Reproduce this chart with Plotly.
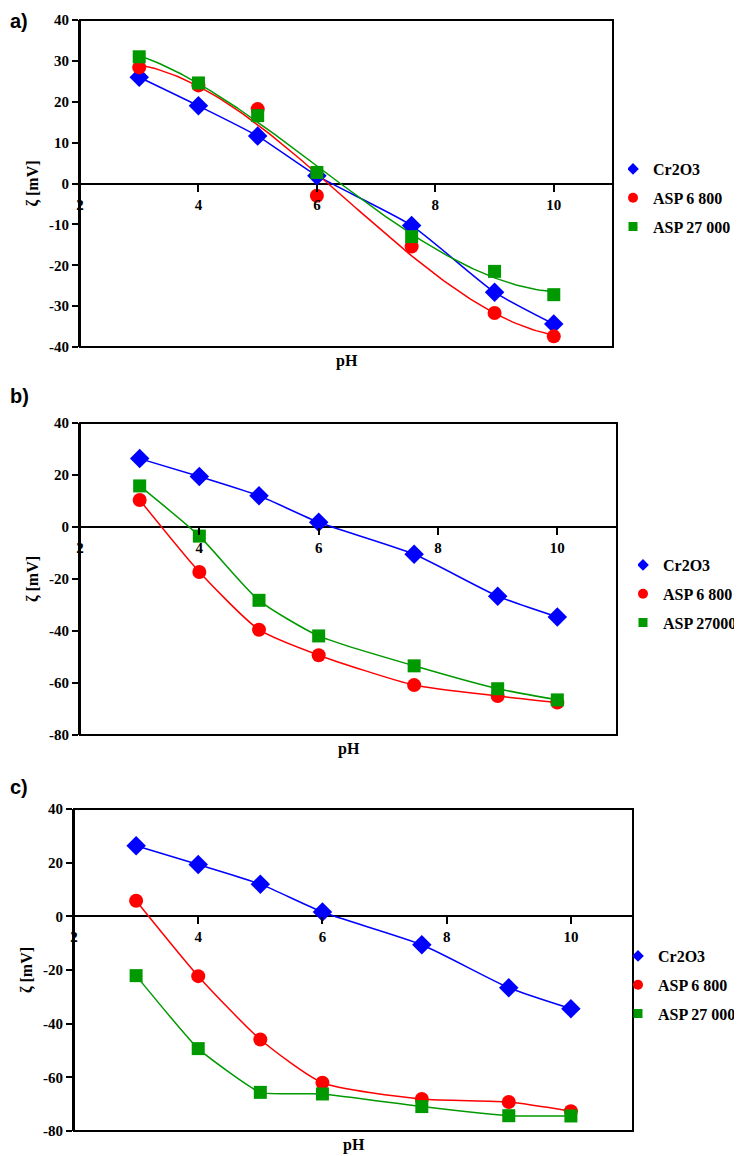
import numpy as np
import plotly.graph_objects as go

# page body has an 8px default margin; the figure is sized to fill the rest of the window
OFF = 8
W, H = 742 - OFF, 1156 - OFF

ph = [3, 4, 5, 6, 7.6, 9, 10]

# Panel a
a_cr2o3 = [26, 19, 11.6, 1.9, -10.3, -26.6, -34.4]
a_asp6800 = [28.4, 24, 18.2, -3.0, -15.4, -31.7, -37.4]
a_asp27000 = [31, 24.6, 16.6, 2.7, -13.0, -21.5, -27.2]

# Panel b
b_cr2o3 = [26.3, 19.4, 12.0, 1.8, -10.5, -26.6, -34.6]
b_asp6800 = [10.4, -17.3, -39.5, -49.3, -60.8, -65.0, -67.5]
b_asp27000 = [15.8, -3.5, -28.2, -41.9, -53.4, -62.2, -66.5]

# Panel c
c_cr2o3 = [26.3, 19.3, 12.0, 1.6, -10.6, -26.6, -34.4]
c_asp6800 = [5.8, -22.3, -45.9, -62.0, -68.1, -69.2, -72.6]
c_asp27000 = [-22.1, -49.3, -65.6, -66.2, -70.9, -74.3, -74.4]

legend_names = [
    ["Cr2O3", "ASP 6 800", "ASP 27 000"],
    ["Cr2O3", "ASP 6 800", "ASP 27000"],
    ["Cr2O3", "ASP 6 800", "ASP 27 000"],
]
panel_labels = ["a)", "b)", "c)"]
y_ranges = [[-40, 40], [-80, 40], [-80, 40]]
y_dticks = [10, 20, 20]
x_range = [2, 11]
x_ticks = [2, 4, 6, 8, 10]

# line type per series: "spline" through points, or polynomial trendline degree
line_kind = [
    ["spline", 3, 3],
    ["spline", "spline", "spline"],
    ["spline", "spline", "spline"],
]
smooth = [
    [0.6, 0, 0],
    [0.6, 0.6, 0.6],
    [0.6, 0.6, 0.4],
]

# screen-pixel boxes (left, right, top, bottom)
boxes = [(80, 613, 20, 347), (80, 617, 423, 735), (74, 633, 809, 1131)]
# legend text start x, first row centre y (screen px)
legend_pos = [(655, 168), (665, 564), (660, 955)]
label_pos = [(OFF, OFF), (OFF, 383), (OFF, 774)]

colors = ["#0000FF", "#FF0000", "#009900"]
symbols = ["diamond", "circle", "square"]
msizes = [15, 14, 13]
lsizes = [9, 10, 9]

series = [
    [a_cr2o3, a_asp6800, a_asp27000],
    [b_cr2o3, b_asp6800, b_asp27000],
    [c_cr2o3, c_asp6800, c_asp27000],
]

SERIF = "Liberation Serif"
SANS = "Liberation Sans"


def px(x):
    return (x - OFF) / W


def py(y):
    return 1 - (y - OFF) / H


fig = go.Figure()
layout = dict(
    width=W, height=H, margin=dict(l=0, r=0, t=0, b=0, autoexpand=False),
    paper_bgcolor="white", plot_bgcolor="white",
    font=dict(family=SERIF, size=14, color="black"),
    shapes=[], annotations=[],
)

for p in range(3):
    L, R, T, B = boxes[p]
    xd = [px(L), px(R)]
    yd = [py(B), py(T)]
    xs = "" if p == 0 else str(p + 1)
    xa, ya = "x" + xs, "y" + xs
    leg = "legend" if p == 0 else "legend" + str(p + 1)
    y0, y1 = y_ranges[p]
    zero_pos = yd[0] + (0 - y0) / (y1 - y0) * (yd[1] - yd[0])

    layout["xaxis" + xs] = dict(
        domain=xd, range=x_range, anchor="free", position=zero_pos,
        tickvals=x_ticks, ticktext=["<b>%d</b>" % v for v in x_ticks],
        ticks="outside", ticklen=7, tickwidth=1.5, tickcolor="black",
        showline=False, showgrid=False, zeroline=False, automargin=False,
        tickfont=dict(family=SERIF, size=15, color="black"),
    )
    ytv = list(range(y0, y1 + 1, y_dticks[p]))
    layout["yaxis" + xs] = dict(
        domain=yd, range=y_ranges[p], anchor=xa,
        tickvals=ytv, ticktext=["<b>%d</b>" % v for v in ytv],
        ticks="outside", ticklen=6, tickwidth=1.5, tickcolor="black",
        showline=True, linecolor="black", linewidth=2, automargin=False,
        showgrid=False, zeroline=True, zerolinecolor="black", zerolinewidth=1.5,
        tickfont=dict(family=SERIF, size=15, color="black"),
        title=dict(text="<b>ζ [mV]</b>", font=dict(family=SERIF, size=16, color="black"), standoff=6),
    )
    layout["shapes"].append(dict(
        type="rect", xref=xa + " domain", yref=ya + " domain", x0=0, x1=1, y0=0, y1=1,
        line=dict(color="black", width=2), layer="above",
    ))
    layout["annotations"].append(dict(
        text="<b>pH</b>", xref=xa + " domain", yref=ya + " domain", x=0.5, y=0,
        xanchor="center", yanchor="top", yshift=-3, showarrow=False,
        font=dict(family=SERIF, size=16, color="black"),
    ))
    lx, ly = label_pos[p]
    layout["annotations"].append(dict(
        text="<b>" + panel_labels[p] + "</b>", xref="paper", yref="paper",
        x=px(lx), y=py(ly), xanchor="left", yanchor="top", showarrow=False,
        font=dict(family=SANS, size=20, color="black"),
    ))
    gx, gy = legend_pos[p]
    layout[leg] = dict(
        x=px(gx - 27), y=py(gy - 16), xanchor="left", yanchor="top",
        bgcolor="rgba(0,0,0,0)", borderwidth=0, tracegroupgap=5,
        itemwidth=30, font=dict(family=SERIF, size=16, color="black"),
        indentation=-15,
    )

    for s in range(3):
        vals = series[p][s]
        kind = line_kind[p][s]
        if kind == "spline":
            fig.add_trace(go.Scatter(
                x=ph, y=vals, mode="lines",
                line=dict(color=colors[s], width=1.5, shape="spline", smoothing=smooth[p][s]),
                xaxis=xa, yaxis=ya, showlegend=False, hoverinfo="skip",
            ))
        else:
            coef = np.polyfit(ph, vals, kind)
            xf = np.linspace(min(ph), max(ph), 141)
            fig.add_trace(go.Scatter(
                x=xf, y=np.polyval(coef, xf), mode="lines",
                line=dict(color=colors[s], width=1.5),
                xaxis=xa, yaxis=ya, showlegend=False, hoverinfo="skip",
            ))
    for s in range(3):
        fig.add_trace(go.Scatter(
            x=ph, y=series[p][s], mode="markers",
            marker=dict(color=colors[s], symbol=symbols[s], size=msizes[s], line=dict(width=0)),
            xaxis=xa, yaxis=ya, showlegend=False, name=legend_names[p][s],
        ))
    for s in range(3):
        fig.add_trace(go.Scatter(
            x=[None], y=[None], mode="markers", name="<b>" + legend_names[p][s] + "</b>",
            marker=dict(color=colors[s], symbol=symbols[s], size=lsizes[s]),
            xaxis=xa, yaxis=ya, showlegend=True, legend=leg,
            legendgroup="p%d_s%d" % (p, s),
        ))

fig.update_layout(**layout)
fig.write_html("out.html")
